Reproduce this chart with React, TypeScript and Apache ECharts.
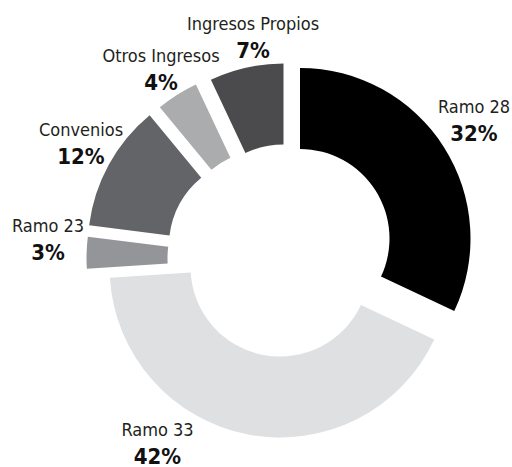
import React, { useEffect, useRef } from "react";
import * as echarts from "echarts";

// Data
const categories = ["Ramo 28", "Ramo 33", "Ramo 23", "Convenios", "Otros Ingresos", "Ingresos Propios"];
const shares = [32, 42, 3, 12, 4, 7];

// Styles / layout
const sliceColors = ["#000000", "#dfe0e2", "#939598", "#636467", "#abacae", "#4b4b4d"];
const sliceCenters: [number, number][] = [
  [300, 238.5],
  [280, 267],
  [257, 258],
  [258.3, 246.6],
  [268.5, 238.7],
  [283.5, 234],
];
const labelAnchors: [number, number][] = [
  [474, 94],
  [157.5, 417],
  [48, 213],
  [81, 117.5],
  [161, 43],
  [253, 11.5],
];
const FONT = '"Liberation Sans Narrow", "DejaVu Sans Condensed", "Roboto", sans-serif';

export default function App() {
  const ref = useRef<HTMLDivElement>(null);
  useEffect(() => {
    if (!ref.current) return;
    const chart = echarts.init(ref.current, undefined, { renderer: "svg" });
    const series = categories.map((_, i) => ({
      type: "pie",
      center: sliceCenters[i],
      radius: [89.5, 170.5],
      startAngle: 90,
      clockwise: true,
      avoidLabelOverlap: false,
      silent: true,
      emphasis: { disabled: true },
      labelLine: { show: false },
      label: {
        show: true,
        position: "outside",
        formatter: "{n|{b}}\n{p|{c}%}",
        rich: {
          n: { fontFamily: FONT, fontSize: 18, lineHeight: 24, color: "#231f20", align: "center" },
          p: { fontFamily: FONT, fontSize: 22, fontWeight: "bold", lineHeight: 30, color: "#111111", align: "center" },
        },
      },
      labelLayout: () => ({
        x: labelAnchors[i][0],
        y: labelAnchors[i][1],
        align: "center",
        verticalAlign: "top",
      }),
      data: categories.map((name, j) => ({
        name,
        value: shares[j],
        itemStyle: { color: j === i ? sliceColors[j] : "rgba(0,0,0,0)", borderWidth: 0 },
        label: { show: j === i },
      })),
    }));
    chart.setOption({
      animation: false,
      backgroundColor: "#ffffff",
      series,
    });
    return () => chart.dispose();
  }, []);
  return (
    <div
      ref={ref}
      style={{ position: "fixed", left: 0, top: 0, width: 512, height: 467 }}
    />
  );
}
